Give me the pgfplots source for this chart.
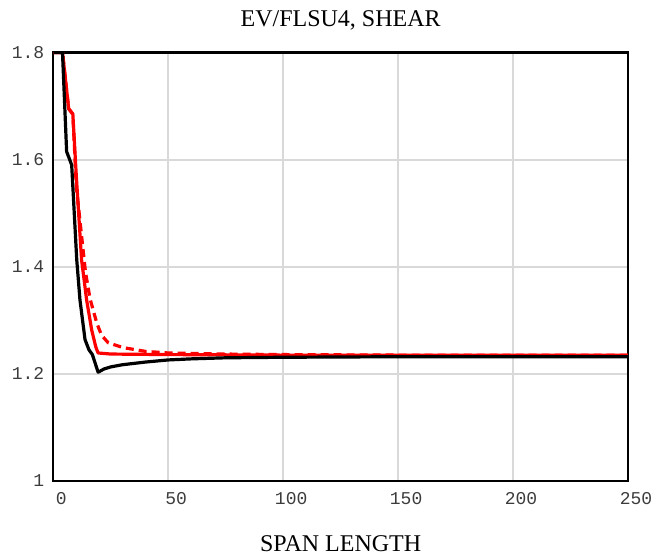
\documentclass[border=0pt]{standalone}
\usepackage{fontspec}
\setmainfont{Liberation Serif}
\setmonofont{Liberation Mono}
\usepackage{pgfplots}
\pgfplotsset{compat=1.18}
\definecolor{gridgray}{RGB}{217,217,217}
\definecolor{ticktext}{RGB}{60,60,60}
\begin{document}
\begin{tikzpicture}
\begin{axis}[
  scale only axis=true,
  width=287.35pt, height=214.25pt,
  xmin=0, xmax=250, ymin=1, ymax=1.8,
  xtick={0,50,100,150,200,250},
  ytick={1,1.2,1.4,1.6,1.8},
  major tick length=0pt,
  grid=major,
  major grid style={draw=gridgray, line width=0.9pt},
  axis line style={line width=1.2pt, black},
  tick label style={font=\ttfamily\fontsize{9}{10}\selectfont, text=ticktext},
  /pgf/number format/assume math mode=true,
  /pgf/number format/fixed,
  xticklabel style={yshift=-2pt, xshift=4pt},
  yticklabel style={xshift=-1pt},
  title={EV/FLSU4, SHEAR},
  title style={font=\fontsize{12}{14}\selectfont, yshift=1.5pt},
  xlabel={SPAN LENGTH},
  xlabel style={font=\fontsize{12}{14}\selectfont, yshift=-9pt},
  axis on top=false,
]
% red solid
\addplot[red, line width=1.6pt, line join=round] coordinates {
(0,1.8) (4,1.8) (6.7,1.695) (8.5,1.685) (10,1.57) (12.3,1.413) (14.5,1.338)
(16.7,1.282) (18.5,1.25) (19.5,1.239) (25,1.237) (50,1.236) (100,1.235)
(150,1.235) (200,1.235) (250,1.235)
};
% red dashed
\addplot[red, line width=1.6pt, dash pattern=on 4pt off 2.5pt, line join=round] coordinates {
(0,1.8) (4,1.8) (6.7,1.695) (8.5,1.685) (10,1.55) (12,1.47) (14,1.39)
(16,1.34) (18.9,1.295) (21,1.272) (23.9,1.258) (30.4,1.249) (40,1.242)
(50,1.239) (75,1.237) (100,1.236) (150,1.235) (200,1.235) (250,1.235)
};
% black solid
\addplot[black, line width=1.6pt, line join=round] coordinates {
(0,1.8) (4,1.8) (5.8,1.615) (8,1.59) (10.2,1.413) (11.6,1.338) (13.8,1.264)
(15.5,1.245) (17,1.236) (19.5,1.203) (22,1.209) (25,1.213) (30,1.217)
(40,1.222) (50,1.226) (60,1.228) (75,1.230) (100,1.231) (150,1.232)
(200,1.232) (250,1.232)
};
\coordinate (sw) at (rel axis cs:0,0);
\coordinate (ne) at (rel axis cs:1,1);
\end{axis}
\pgfresetboundingbox
\path ([xshift=-26.65pt,yshift=-39pt]sw) rectangle ([xshift=21.5pt,yshift=26.25pt]ne);
\end{tikzpicture}
\end{document}
